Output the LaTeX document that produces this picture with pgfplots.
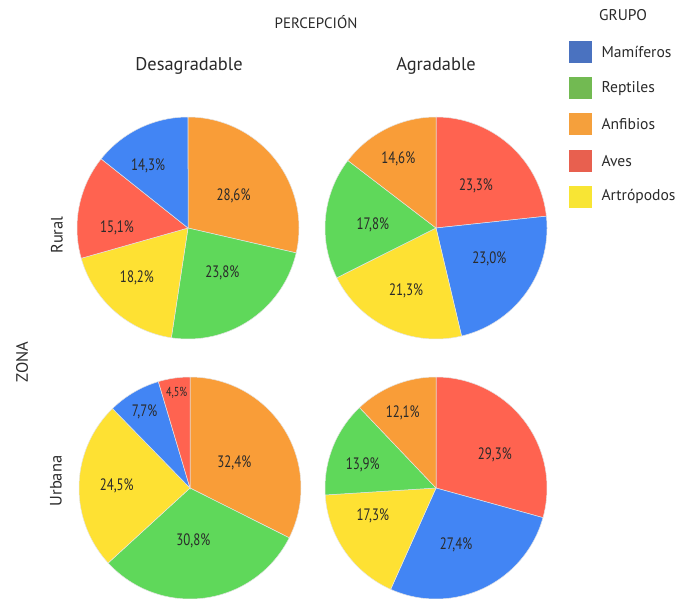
\documentclass[border=0pt]{standalone}
\usepackage{fontspec}
\setmainfont{PT Sans}
\usepackage{pgfplots}
\pgfplotsset{compat=1.18}
\definecolor{cBlue}{HTML}{4285F4}
\definecolor{cGreen}{HTML}{5FD85A}
\definecolor{cOrange}{HTML}{F99D38}
\definecolor{cRed}{HTML}{FF6350}
\definecolor{cYellow}{HTML}{FEE133}
\definecolor{lBlue}{HTML}{4A72C0}
\definecolor{lGreen}{HTML}{72BA52}
\definecolor{lOrange}{HTML}{F5A03C}
\definecolor{lRed}{HTML}{E8604F}
\definecolor{lYellow}{HTML}{F8E534}
\definecolor{txt}{HTML}{2A2A2A}
% slice: start %, end %, colour (clockwise from 12 o'clock)
\newcommand{\slice}[3]{%
  \addplot[fill=#3, draw=white!80!gray, line width=0.5pt, domain=#1:#2, samples=80, variable=\t]
    ({sin(3.6*\t)},{cos(3.6*\t)}) -- (axis cs:0,0) -- cycle;}
\newcommand{\lab}[3]{%
  \node[font=\fontsize{16.5}{16.5}\selectfont, text=txt, xscale=0.78] at (axis cs:#1,#2) {#3};}
\pgfplotsset{pieax/.style={width=222pt, height=222pt, scale only axis,
  xmin=-1, xmax=1, ymin=-1, ymax=1, hide axis, clip=false, anchor=center}}
\begin{document}
\begin{tikzpicture}
\path[use as bounding box] (0,0) rectangle (687pt,598pt);
% Rural - Desagradable
\begin{axis}[pieax, at={(188pt,370pt)}]
\slice{0}{28.6}{cOrange}
\slice{28.6}{52.4}{cGreen}
\slice{52.4}{70.6}{cYellow}
\slice{70.6}{85.7}{cRed}
\slice{85.7}{100}{cBlue}
\lab{0.41}{0.29}{28,6\%}
\lab{0.31}{-0.40}{23,8\%}
\lab{-0.46}{-0.45}{18,2\%}
\lab{-0.64}{0}{15,1\%}
\lab{-0.36}{0.56}{14,3\%}
\end{axis}
% Rural - Agradable
\begin{axis}[pieax, at={(436pt,370pt)}]
\slice{0}{23.3}{cRed}
\slice{23.3}{46.3}{cBlue}
\slice{46.3}{67.6}{cYellow}
\slice{67.6}{85.4}{cGreen}
\slice{85.4}{100}{cOrange}
\lab{0.36}{0.38}{23,3\%}
\lab{0.48}{-0.28}{23,0\%}
\lab{-0.27}{-0.57}{21,3\%}
\lab{-0.57}{0.03}{17,8\%}
\lab{-0.34}{0.62}{14,6\%}
\end{axis}
% Urbana - Desagradable
\begin{axis}[pieax, at={(190pt,110pt)}]
\slice{0}{32.4}{cOrange}
\slice{32.4}{63.2}{cGreen}
\slice{63.2}{87.7}{cYellow}
\slice{87.7}{95.4}{cBlue}
\slice{95.4}{100}{cRed}
\lab{0.40}{0.23}{32,4\%}
\lab{0.03}{-0.48}{30,8\%}
\lab{-0.66}{0.02}{24,5\%}
\lab{-0.41}{0.69}{7,7\%}
\node[font=\fontsize{13}{13}\selectfont, text=txt, xscale=0.78] at (axis cs:-0.12,0.86) {4,5\%};
\end{axis}
% Urbana - Agradable
\begin{axis}[pieax, at={(436pt,110pt)}]
\slice{0}{29.3}{cRed}
\slice{29.3}{56.7}{cBlue}
\slice{56.7}{74.0}{cYellow}
\slice{74.0}{87.9}{cGreen}
\slice{87.9}{100}{cOrange}
\lab{0.53}{0.30}{29,3\%}
\lab{0.18}{-0.51}{27,4\%}
\lab{-0.57}{-0.25}{17,3\%}
\lab{-0.66}{0.21}{13,9\%}
\lab{-0.30}{0.68}{12,1\%}
\end{axis}
% titles
\node[font=\fontsize{15}{15}\selectfont, text=txt] at (316pt,576pt) {PERCEPCIÓN};
\node[font=\fontsize{18.4}{18.4}\selectfont, text=txt] at (189pt,532pt) {Desagradable};
\node[font=\fontsize{18.4}{18.4}\selectfont, text=txt] at (436pt,532pt) {Agradable};
\node[font=\fontsize{16.5}{16.5}\selectfont, text=txt, rotate=90] at (57pt,363pt) {Rural};
\node[font=\fontsize{16.5}{16.5}\selectfont, text=txt, rotate=90] at (56pt,117pt) {Urbana};
\node[font=\fontsize{16.5}{16.5}\selectfont, text=txt, rotate=90] at (22pt,236pt) {ZONA};
% legend
\node[font=\fontsize{15.5}{15.5}\selectfont, text=txt] at (623pt,583pt) {GRUPO};
\foreach \c/\n [count=\i from 0] in {lBlue/Mamíferos, lGreen/Reptiles, lOrange/Anfibios, lRed/Aves, lYellow/Artrópodos}{
  \fill[\c] (569pt,{546pt-36.2pt*\i-11pt}) rectangle (592pt,{546pt-36.2pt*\i+11pt});
  \node[font=\fontsize{15.6}{15.6}\selectfont, text=txt, anchor=west] at (598pt,{546pt-36.2pt*\i}) {\n};
}
\end{tikzpicture}
\end{document}
